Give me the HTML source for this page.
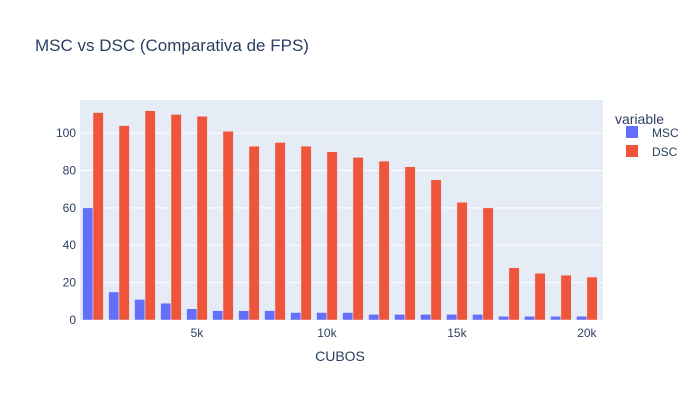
<!DOCTYPE html>
<html><head><meta charset="utf-8"><style>
body{margin:0;background:#fff;font-family:"Liberation Sans",sans-serif;}
svg text{font-family:"Liberation Sans",sans-serif;}
</style></head><body>
<svg id="chart" width="696" height="400" xmlns="http://www.w3.org/2000/svg">
<rect width="696" height="400" fill="#fff"/>
<text x="35" y="51" font-size="17" fill="#2a3f5f">MSC vs DSC (Comparativa de FPS)</text>
<rect x="80" y="100" width="523" height="220" fill="#e5ecf6"/>
<g id="grid"></g><g id="bars"></g><g id="axes"></g>
<text x="340" y="361" font-size="14" fill="#2a3f5f" text-anchor="middle">CUBOS</text>
<text x="615" y="124" font-size="14" fill="#2a3f5f">variable</text>
<g><rect x="626" y="126" width="12" height="12" fill="#636efa"/><text x="652" y="137" font-size="12" fill="#2a3f5f">MSC</text></g>
<g><rect x="626" y="145" width="12" height="12" fill="#ef553b"/><text x="652" y="156" font-size="12" fill="#2a3f5f">DSC</text></g>
</svg>
<script>
const categories=[1000,2000,3000,4000,5000,6000,7000,8000,9000,10000,11000,12000,13000,14000,15000,16000,17000,18000,19000,20000];
const mscValues=[60,15,11,9,6,5,5,5,4,4,4,3,3,3,3,3,2,2,2,2];
const dscValues=[111,104,112,110,109,101,93,95,93,90,87,85,82,75,63,60,28,25,24,23];
const yTicks=[0,20,40,60,80,100];
const xTicks=[5000,10000,15000,20000];
const xTickLabels=["5k","10k","15k","20k"];
const NS="http://www.w3.org/2000/svg";
const X0=80,X1=603,Y0=320,Y1=100;
const xMin=500,xMax=20620,yMax=117.7;
const xs=v=>X0+(v-xMin)/(xMax-xMin)*(X1-X0);
const ys=v=>Y0-v/yMax*(Y0-Y1);
function mk(tag,attrs,parent){const e=document.createElementNS(NS,tag);for(const k in attrs)e.setAttribute(k,attrs[k]);parent.appendChild(e);return e;}
const grid=document.getElementById('grid'),bars=document.getElementById('bars'),axes=document.getElementById('axes');
yTicks.forEach(t=>{
  if(t>0){const l=mk('line',{x1:X0,x2:X1,y1:ys(t),y2:ys(t),stroke:'#fff','stroke-width':1},grid);
  
  }
  const tx=mk('text',{x:X0-4,y:ys(t)+4,'font-size':12,fill:'#2a3f5f','text-anchor':'end'},axes);tx.textContent=t;
  
  
});
xTicks.forEach((t,i)=>{
  const tx=mk('text',{x:xs(t),y:Y0+17,'font-size':12,fill:'#2a3f5f','text-anchor':'middle'},axes);tx.textContent=xTickLabels[i];
  
  
});
const unit=xs(1000)-xs(0);
const bw=unit*0.8/2;
categories.forEach((c,i)=>{
  const cx=xs(c);
  const r1=mk('rect',{x:cx-bw,y:ys(mscValues[i]),width:bw,height:Y0-ys(mscValues[i]),fill:'#636efa',stroke:'#e5ecf6','stroke-width':0.5},bars);
  
  
  const r2=mk('rect',{x:cx,y:ys(dscValues[i]),width:bw,height:Y0-ys(dscValues[i]),fill:'#ef553b',stroke:'#e5ecf6','stroke-width':0.5},bars);
  
  
});
</script>
</body></html>
